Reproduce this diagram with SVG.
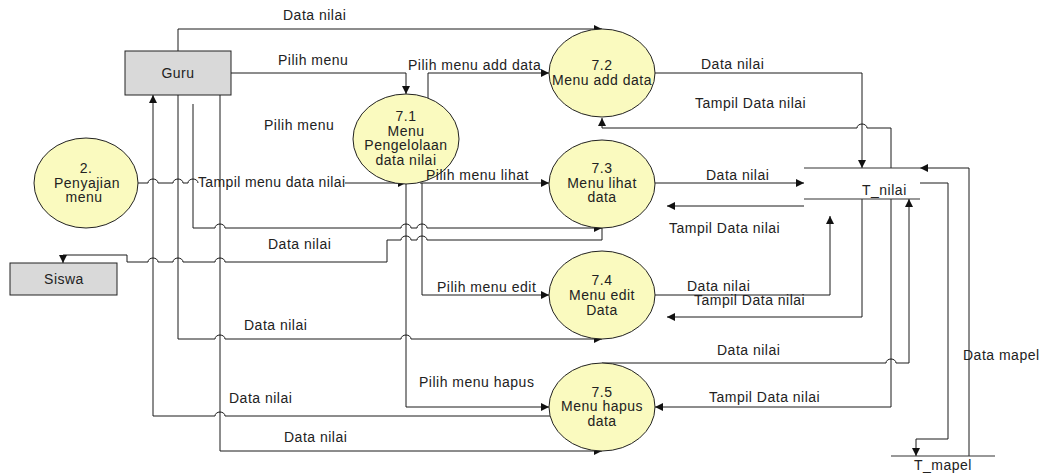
<svg xmlns="http://www.w3.org/2000/svg" width="1049" height="475" viewBox="0 0 1049 475">
  <style>
    text { font-family: "Liberation Sans", Arial, sans-serif; font-size: 14px; fill: #222; letter-spacing: 0.5px; }
    .mid { text-anchor: middle; }
    .ent { fill: #d9d9d9; stroke: #222; stroke-width: 1; }
    .proc { fill: #fafabf; stroke: #222; stroke-width: 1; }
    .store { stroke: #333; stroke-width: 1.2; fill: none; }
    .flow { fill: none; stroke: #1a1a1a; stroke-width: 1; }
    .arr { marker-end: url(#head); }
  </style>
  <defs>
    <marker id="head" viewBox="0 0 10 10" refX="10" refY="5" markerUnits="userSpaceOnUse" markerWidth="9" markerHeight="8" orient="auto">
      <path d="M0,0 L10,5 L0,10 z" fill="#111"/>
    </marker>
  </defs>

  <rect width="1049" height="475" fill="#fff"/>

  <!-- connectors (line hops drawn as small arcs) -->
  <g id="connectors">
    <path class="flow arr" d="M178,51 V29 H602"/>
    <path class="flow arr" d="M231,73 H406 V94"/>
    <path class="flow arr" d="M428,98 V73 H549"/>
    <path class="flow" d="M138,183 H148 A5,4 0 0 1 158,183 H173 A5,4 0 0 1 183,183 H188 A5,4 0 0 1 198,183"/>
    <path class="flow arr" d="M345,183 H406"/>
    <path class="flow arr" d="M193,104 V228 H215 A5,4 0 0 1 225,228 H401 A5,4 0 0 1 411,228 H417 A5,4 0 0 1 427,228 H602"/>
    <path class="flow arr" d="M602,228 V240 H427 A5,4 0 0 0 417,240 H411 A5,4 0 0 0 401,240 H387 V262 H225 A5,4 0 0 0 215,262 H183 A5,4 0 0 0 173,262 H158 A5,4 0 0 0 148,262 H127 V255 H63 V263"/>
    <path class="flow arr" d="M178,95 V339 H215 A5,4 0 0 1 225,339 H401 A5,4 0 0 1 411,339 H602"/>
    <path class="flow arr" d="M551,416 H225 A5,4 0 0 0 215,416 H153 V95"/>
    <path class="flow arr" d="M220,95 V451 H602"/>
    <path class="flow arr" d="M420,183 H549"/>
    <path class="flow arr" d="M422,183 V295 H549"/>
    <path class="flow arr" d="M406,184 V407 H549"/>
    <path class="flow arr" d="M655,73 H862 V168"/>
    <path class="flow arr" d="M891,168 V128 H867 A5,4 0 0 0 857,128 H602 V118"/>
    <path class="flow arr" d="M655,183 H804"/>
    <path class="flow arr" d="M804,206 H667"/>
    <path class="flow arr" d="M655,295 H830 V216"/>
    <path class="flow arr" d="M862,199 V317 H667"/>
    <path class="flow arr" d="M602,363 H886 A5,4 0 0 1 896,363 H909 V199"/>
    <path class="flow arr" d="M891,199 V407 H655"/>
    <path class="flow arr" d="M920,183 H948 V439 H916 V456"/>
    <path class="flow arr" d="M969,456 V168 H920"/>
  </g>

  <!-- external entities -->
  <g id="guru">
    <rect class="ent" x="125" y="51" width="106" height="44"/>
    <text class="mid" x="178" y="78">Guru</text>
  </g>
  <g id="siswa">
    <rect class="ent" x="10" y="263" width="107" height="32"/>
    <text class="mid" x="64" y="284">Siswa</text>
  </g>

  <!-- processes -->
  <g id="p2">
    <ellipse class="proc" cx="86" cy="183" rx="52" ry="45"/>
    <text class="mid" x="86" y="173">2.</text>
    <text class="mid" x="87" y="188">Penyajian</text>
    <text class="mid" x="84" y="202">menu</text>
  </g>
  <g id="p7_1">
    <ellipse class="proc" cx="406" cy="139" rx="53" ry="45"/>
    <text class="mid" x="406" y="121">7.1</text>
    <text class="mid" x="406" y="136">Menu</text>
    <text class="mid" x="406" y="150">Pengelolaan</text>
    <text class="mid" x="406" y="165">data nilai</text>
  </g>
  <g id="p7_2">
    <ellipse class="proc" cx="602" cy="73" rx="53" ry="44"/>
    <text class="mid" x="602" y="70">7.2</text>
    <text class="mid" x="602" y="85">Menu add data</text>
  </g>
  <g id="p7_3">
    <ellipse class="proc" cx="602" cy="184" rx="53" ry="44"/>
    <text class="mid" x="602" y="173">7.3</text>
    <text class="mid" x="602" y="188">Menu lihat</text>
    <text class="mid" x="602" y="202">data</text>
  </g>
  <g id="p7_4">
    <ellipse class="proc" cx="602" cy="295" rx="53" ry="44"/>
    <text class="mid" x="602" y="285">7.4</text>
    <text class="mid" x="602" y="300">Menu edit</text>
    <text class="mid" x="602" y="315">Data</text>
  </g>
  <g id="p7_5">
    <ellipse class="proc" cx="602" cy="407" rx="53" ry="44"/>
    <text class="mid" x="602" y="397">7.5</text>
    <text class="mid" x="602" y="411">Menu hapus</text>
    <text class="mid" x="602" y="426">data</text>
  </g>

  <!-- data stores -->
  <g id="t_nilai">
    <path class="store" d="M804,168 H920 M804,199 H920"/>
    <text x="862" y="195">T_nilai</text>
  </g>
  <g id="t_mapel">
    <path class="store" d="M891,456 H995"/>
    <text class="mid" x="943" y="470">T_mapel</text>
  </g>

  <!-- flow labels, drawn on top of the shapes -->
  <g id="flow-labels">
    <text x="283" y="20">Data nilai</text>
    <text x="278" y="65">Pilih menu</text>
    <text x="264" y="130">Pilih menu</text>
    <text x="198" y="187" textLength="147" lengthAdjust="spacing" style="letter-spacing:0">Tampil menu data nilai</text>
    <text x="408" y="70">Pilih menu add data</text>
    <text x="426" y="180">Pilih menu lihat</text>
    <text x="268" y="249">Data nilai</text>
    <text x="244" y="330">Data nilai</text>
    <text x="229" y="403">Data nilai</text>
    <text x="284" y="442">Data nilai</text>
    <text x="437" y="292">Pilih menu edit</text>
    <text x="419" y="387">Pilih menu hapus</text>
    <text x="701" y="69">Data nilai</text>
    <text x="695" y="108">Tampil Data nilai</text>
    <text x="706" y="180">Data nilai</text>
    <text x="669" y="233">Tampil Data nilai</text>
    <text x="687" y="291">Data nilai</text>
    <text x="694" y="305">Tampil Data nilai</text>
    <text x="717" y="355">Data nilai</text>
    <text x="709" y="402">Tampil Data nilai</text>
    <text x="963" y="360">Data mapel</text>
  </g>
</svg>
